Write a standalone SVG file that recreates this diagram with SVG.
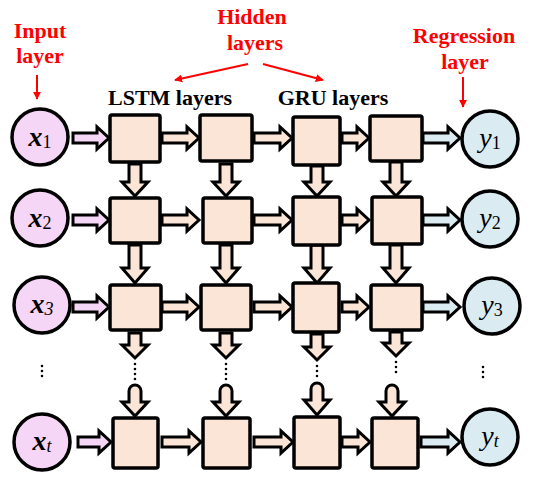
<svg xmlns="http://www.w3.org/2000/svg" width="550" height="480" viewBox="0 0 550 480">
<defs>
<style>
.lbl{font-family:"Liberation Serif","Times New Roman",serif;font-weight:bold;font-size:22px;text-anchor:middle}
.red{fill:#ff0000}
.blk{fill:#000}
.box{fill:#fbe5d6;stroke:#000;stroke-width:3.5;stroke-linejoin:round}
.cx{fill:#f6d6f6;stroke:#000;stroke-width:3.5}
.cy{fill:#daebf2;stroke:#000;stroke-width:3.5}
.ap{fill:#f6d6f6;stroke:#000;stroke-width:3;stroke-linejoin:miter}
.ab{fill:#fbe5d6;stroke:#000;stroke-width:3;stroke-linejoin:miter}
.ac{fill:#daebf2;stroke:#000;stroke-width:3;stroke-linejoin:miter}
.ra{stroke:#ff0000;stroke-width:2;fill:none}
.dots{stroke:#000;stroke-width:2.6;stroke-linecap:round;stroke-dasharray:0 5}
.nt{font-family:"Liberation Serif","Times New Roman",serif;text-anchor:middle}
</style>
<marker id="rh" viewBox="0 0 10 10" refX="9" refY="5" markerWidth="4" markerHeight="4" orient="auto" markerUnits="strokeWidth">
<path d="M0,0 L10,5 L0,10 Z" fill="#ff0000"/>
</marker>
</defs>
<rect width="550" height="480" fill="#fff"/>

<g id="labels">
<text class="lbl red" x="40" y="38">Input</text>
<text class="lbl red" x="40" y="63">layer</text>
<text class="lbl red" x="252" y="24">Hidden</text>
<text class="lbl red" x="255" y="50">layers</text>
<text class="lbl red" x="464" y="43">Regression</text>
<text class="lbl red" x="465" y="69">layer</text>
<text class="lbl blk" x="170" y="105">LSTM layers</text>
<text class="lbl blk" x="333" y="105">GRU layers</text>
</g>

<g id="connectors">
<line class="ra" x1="37" y1="75" x2="37" y2="99" marker-end="url(#rh)"/>
<line class="ra" x1="463" y1="77" x2="463" y2="107" marker-end="url(#rh)"/>
<line class="ra" x1="248" y1="64" x2="175" y2="80" marker-end="url(#rh)"/>
<line class="ra" x1="263" y1="64" x2="323" y2="80" marker-end="url(#rh)"/>

<!-- horizontal arrows row 1 (y=138) -->
<path class="ap" d="M73,133 H97 V127 L109,138 L97,149 V143 H73 Z"/>
<path class="ab" d="M162,133 H187 V127 L199,138 L187,149 V143 H162 Z"/>
<path class="ab" d="M254,133 H280 V127 L292,138 L280,149 V143 H254 Z"/>
<path class="ab" d="M342,133 H357 V127 L369,138 L357,149 V143 H342 Z"/>
<path class="ac" d="M423,133 H448 V127 L460,138 L448,149 V143 H423 Z"/>
<!-- row 2 (y=220) -->
<path class="ap" d="M73,215 H97 V209 L109,220 L97,231 V225 H73 Z"/>
<path class="ab" d="M162,215 H187 V209 L199,220 L187,231 V225 H162 Z"/>
<path class="ab" d="M254,215 H280 V209 L292,220 L280,231 V225 H254 Z"/>
<path class="ab" d="M342,215 H357 V209 L369,220 L357,231 V225 H342 Z"/>
<path class="ac" d="M423,215 H448 V209 L460,220 L448,231 V225 H423 Z"/>
<!-- row 3 (y=307) -->
<path class="ap" d="M73,302 H97 V296 L109,307 L97,318 V312 H73 Z"/>
<path class="ab" d="M162,302 H187 V296 L199,307 L187,318 V312 H162 Z"/>
<path class="ab" d="M254,302 H280 V296 L292,307 L280,318 V312 H254 Z"/>
<path class="ab" d="M342,302 H357 V296 L369,307 L357,318 V312 H342 Z"/>
<path class="ac" d="M423,302 H448 V296 L460,307 L448,318 V312 H423 Z"/>
<!-- row t (y=442) -->
<path class="ap" d="M78,437 H99 V431 L111,442 L99,453 V447 H78 Z"/>
<path class="ab" d="M162,437 H189 V431 L201,442 L189,453 V447 H162 Z"/>
<path class="ab" d="M254,437 H281 V431 L293,442 L281,453 V447 H254 Z"/>
<path class="ab" d="M342,437 H358 V431 L370,442 L358,453 V447 H342 Z"/>
<path class="ac" d="M421,437 H448 V431 L460,442 L448,453 V447 H421 Z"/>

<!-- vertical arrows row1->row2 -->
<path class="ab" d="M129,164 V182 H122 L135,196 L148,182 H141 V164 Z"/>
<path class="ab" d="M220,164 V182 H213 L226,196 L239,182 H232 V164 Z"/>
<path class="ab" d="M311,166 V182 H304 L317,196 L330,182 H323 V166 Z"/>
<path class="ab" d="M390,162 V182 H383 L396,196 L409,182 H402 V162 Z"/>
<!-- row2->row3 -->
<path class="ab" d="M129,245 V268 H122 L135,283 L148,268 H141 V245 Z"/>
<path class="ab" d="M220,245 V268 H213 L226,283 L239,268 H232 V245 Z"/>
<path class="ab" d="M311,245 V268 H304 L317,283 L330,268 H323 V245 Z"/>
<path class="ab" d="M390,245 V268 H383 L396,283 L409,268 H402 V245 Z"/>
<!-- row3->dots -->
<path class="ab" d="M129,333 V345 H122 L135,358 L148,345 H141 V333 Z"/>
<path class="ab" d="M220,333 V345 H213 L226,358 L239,345 H232 V333 Z"/>
<path class="ab" d="M311,334 V347 H304 L317,360 L330,347 H323 V334 Z"/>
<path class="ab" d="M390,332 V343 H383 L396,356 L409,343 H402 V332 Z"/>
<!-- dots->row t -->
<path class="ab" d="M129,391 A6,6 0 0 1 141,391 V402 H148 L135,416 L122,402 H129 Z"/>
<path class="ab" d="M220,391 A6,6 0 0 1 232,391 V402 H239 L226,416 L213,402 H220 Z"/>
<path class="ab" d="M311,389 A6,6 0 0 1 323,389 V400 H330 L317,415 L304,400 H311 Z"/>
<path class="ab" d="M386,391 A6,6 0 0 1 398,391 V402 H405 L392,416 L379,402 H386 Z"/>

<line class="dots" x1="135" y1="364" x2="135" y2="380"/>
<line class="dots" x1="226" y1="364" x2="226" y2="380"/>
<line class="dots" x1="317" y1="366" x2="317" y2="381"/>
<line class="dots" x1="396" y1="362" x2="396" y2="377"/>
<line class="dots" x1="42" y1="366" x2="42" y2="381"/>
<line class="dots" x1="483" y1="367" x2="483" y2="382"/>
</g>

<g id="x1"><circle class="cx" cx="40" cy="137" r="28"/><text class="nt" x="40" y="146"><tspan font-size="28" font-style="italic" font-weight="bold">x</tspan><tspan font-size="18" dy="2">1</tspan></text></g>
<g id="x2"><circle class="cx" cx="40" cy="218" r="28"/><text class="nt" x="40" y="227"><tspan font-size="28" font-style="italic" font-weight="bold">x</tspan><tspan font-size="18" dy="2">2</tspan></text></g>
<g id="x3"><circle class="cx" cx="42" cy="305" r="28"/><text class="nt" x="42" y="313"><tspan font-size="28" font-style="italic" font-weight="bold">x</tspan><tspan font-size="18" dy="2" font-style="italic">3</tspan></text></g>
<g id="xt"><circle class="cx" cx="42" cy="442" r="28"/><text class="nt" x="42" y="450"><tspan font-size="28" font-style="italic" font-weight="bold">x</tspan><tspan font-size="18" dy="2" font-style="italic">t</tspan></text></g>

<g id="y1"><circle class="cy" cx="490" cy="139" r="28"/><text class="nt" x="490" y="147"><tspan font-size="28" font-style="italic">y</tspan><tspan font-size="18" dy="2">1</tspan></text></g>
<g id="y2"><circle class="cy" cx="490" cy="219" r="28"/><text class="nt" x="490" y="227"><tspan font-size="28" font-style="italic">y</tspan><tspan font-size="18" dy="2">2</tspan></text></g>
<g id="y3"><circle class="cy" cx="492" cy="306" r="28"/><text class="nt" x="492" y="314"><tspan font-size="28" font-style="italic">y</tspan><tspan font-size="18" dy="2">3</tspan></text></g>
<g id="yt"><circle class="cy" cx="490" cy="437" r="28"/><text class="nt" x="490" y="445"><tspan font-size="28" font-style="italic">y</tspan><tspan font-size="18" dy="2" font-style="italic">t</tspan></text></g>

<g id="b11"><rect class="box" x="110" y="115" width="50" height="47" rx="2"/></g>
<g id="b12"><rect class="box" x="200" y="115" width="52" height="46" rx="2"/></g>
<g id="b13"><rect class="box" x="293" y="117" width="47" height="48" rx="2"/></g>
<g id="b14"><rect class="box" x="370" y="116" width="52" height="45" rx="2"/></g>
<g id="b21"><rect class="box" x="110" y="198" width="50" height="45" rx="2"/></g>
<g id="b22"><rect class="box" x="203" y="198" width="49" height="45" rx="2"/></g>
<g id="b23"><rect class="box" x="293" y="197" width="47" height="48" rx="2"/></g>
<g id="b24"><rect class="box" x="372" y="197" width="50" height="47" rx="2"/></g>
<g id="b31"><rect class="box" x="110" y="285" width="51" height="45" rx="2"/></g>
<g id="b32"><rect class="box" x="201" y="285" width="50" height="45" rx="2"/></g>
<g id="b33"><rect class="box" x="293" y="283" width="46" height="49" rx="2"/></g>
<g id="b34"><rect class="box" x="371" y="285" width="51" height="45" rx="2"/></g>
<g id="b41"><rect class="box" x="113" y="418" width="45" height="50" rx="2"/></g>
<g id="b42"><rect class="box" x="203" y="418" width="47" height="50" rx="2"/></g>
<g id="b43"><rect class="box" x="294" y="417" width="46" height="51" rx="2"/></g>
<g id="b44"><rect class="box" x="372" y="418" width="46" height="50" rx="2"/></g>
</svg>
